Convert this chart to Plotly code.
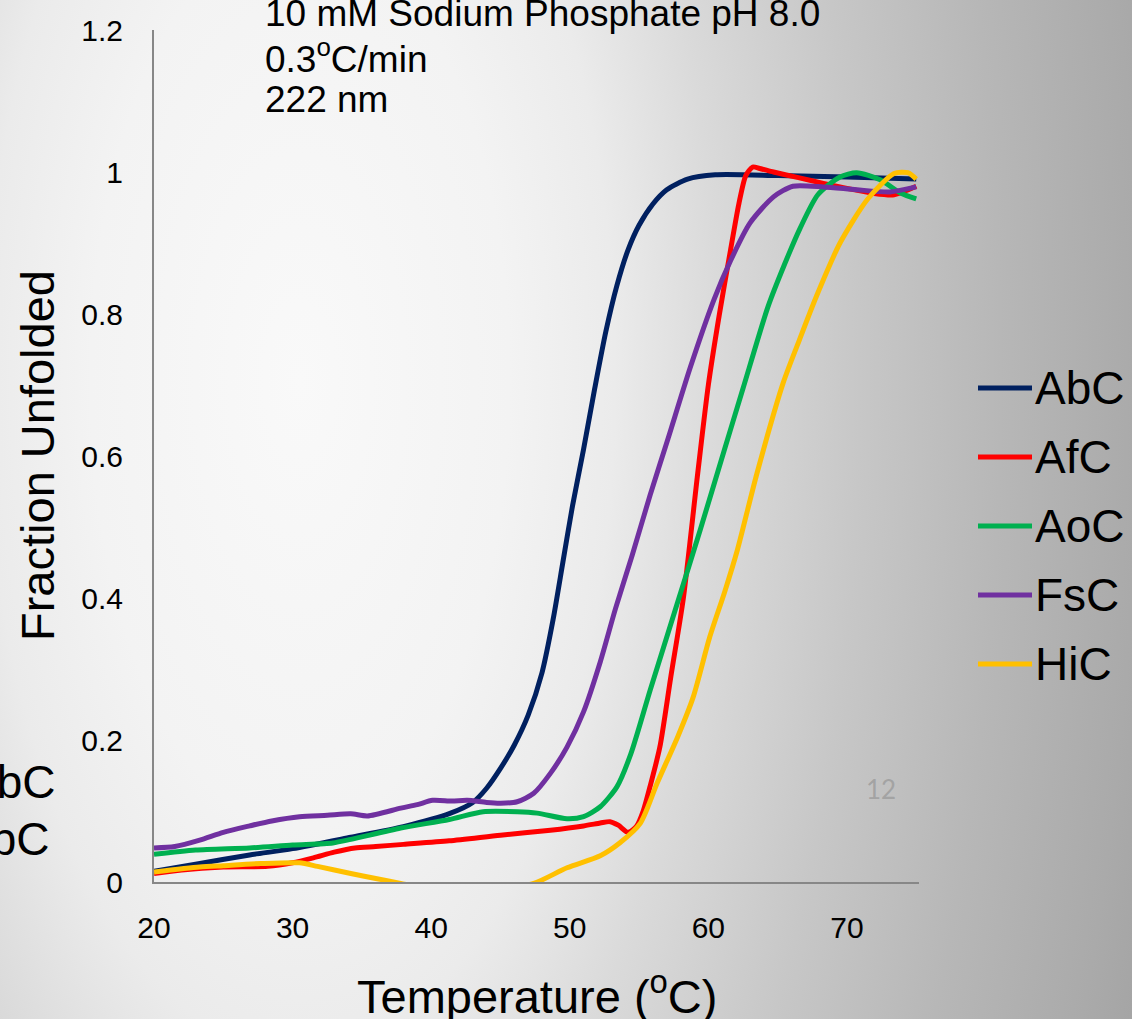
import base64
import plotly.graph_objects as go

# ---------------- data ----------------
series_names = ["AbC", "AfC", "AoC", "FsC", "HiC"]
series_colors = ["#002060", "#ff0000", "#00b050", "#7030a0", "#ffc000"]

abc_t = [20, 23, 26.9, 30, 34.2, 38, 41.4, 43, 44, 45, 46, 47, 48, 48.8, 49.5, 50.2, 51, 51.8, 52.6, 53.4, 54.2, 55, 56, 57, 58.5, 60.5, 65, 70, 75]
abc_f = [0.015, 0.025, 0.038, 0.047, 0.063, 0.078, 0.097, 0.112, 0.132, 0.16, 0.193, 0.235, 0.295, 0.37, 0.45, 0.53, 0.61, 0.695, 0.775, 0.84, 0.89, 0.925, 0.955, 0.975, 0.99, 0.996, 0.995, 0.993, 0.99]

afc_t = [20, 22, 25, 28.2, 30, 31.5, 33, 34.5, 36, 38, 41.3, 45, 48.6, 51, 52.2, 52.9, 53.5, 54.2, 54.8, 55.3, 55.8, 56.5, 57.3, 58.2, 59.2, 60.0, 60.8, 61.6, 62.2, 62.7, 63.2, 63.7, 64.7, 66.5, 68.3, 70, 71.9, 73.4, 75]
afc_f = [0.012, 0.017, 0.021, 0.022, 0.027, 0.034, 0.042, 0.048, 0.05, 0.053, 0.058, 0.066, 0.073, 0.079, 0.083, 0.085, 0.08, 0.07, 0.078, 0.1, 0.135, 0.19, 0.29, 0.4, 0.57, 0.7, 0.8, 0.89, 0.955, 0.995, 1.007, 1.005, 1.0, 0.992, 0.984, 0.977, 0.97, 0.968, 0.98]

aoc_t = [20, 23, 26.9, 30, 32.9, 34.2, 37.8, 41.3, 43.75, 46.2, 47.65, 49.8, 51, 52.2, 53.4, 54.4, 55.8, 57.8, 59.4, 61.1, 62.5, 64.3, 65.5, 66.6, 67.9, 69.5, 70.7, 72.4, 73.9, 75]
aoc_f = [0.039, 0.045, 0.048, 0.052, 0.055, 0.06, 0.076, 0.088, 0.099, 0.099, 0.097, 0.089, 0.092, 0.106, 0.134, 0.18, 0.27, 0.395, 0.495, 0.605, 0.695, 0.81, 0.87, 0.92, 0.968, 0.993, 0.999, 0.989, 0.97, 0.962]

fsc_t = [20, 21.5, 23.3, 25, 26.9, 28.5, 30.5, 32.5, 34.2, 35.4, 37.8, 39, 40.1, 41.5, 42.6, 44, 45, 46.2, 47.4, 48.6, 49.8, 51, 52.2, 53.3, 54.5, 55.8, 57.1, 58.7, 60.4, 61.6, 63, 64.7, 66.1, 68.3, 70.7, 73.1, 75]
fsc_f = [0.048, 0.05, 0.059, 0.07, 0.079, 0.086, 0.092, 0.094, 0.096, 0.093, 0.104, 0.109, 0.115, 0.114, 0.115, 0.112, 0.111, 0.113, 0.125, 0.153, 0.19, 0.24, 0.31, 0.385, 0.46, 0.545, 0.625, 0.725, 0.82, 0.875, 0.928, 0.965, 0.98, 0.979, 0.975, 0.972, 0.979]

hic_t = [20, 23.3, 25, 27.7, 30.5, 31.8, 34.2, 36, 37.8, 40, 42.5, 45, 47.4, 49.8, 52.2, 53.6, 55.1, 56.3, 57.8, 58.9, 60.1, 61.2, 62.1, 63.5, 65.4, 66.6, 67.8, 69.5, 71.5, 73.4, 74.4, 75]
hic_f = [0.014, 0.021, 0.023, 0.026, 0.027, 0.022, 0.012, 0.005, -0.002, -0.01, -0.015, -0.01, -0.002, 0.02, 0.037, 0.055, 0.083, 0.139, 0.205, 0.26, 0.345, 0.41, 0.468, 0.575, 0.703, 0.765, 0.825, 0.9, 0.962, 0.998, 0.999, 0.99]

x_ticks = [20, 30, 40, 50, 60, 70]
y_ticks = [0, 0.2, 0.4, 0.6, 0.8, 1, 1.2]
y_tick_labels = ["0", "0.2", "0.4", "0.6", "0.8", "1", "1.2"]

SUP_O = "<sup>o</sup>"
title_lines = ["10 mM Sodium Phosphate pH 8.0", "0.3" + SUP_O + "C/min", "222 nm"]
x_title = "Temperature (" + SUP_O + "C)"
y_title = "Fraction Unfolded"

all_t = [abc_t, afc_t, aoc_t, fsc_t, hic_t]
all_f = [abc_f, afc_f, aoc_f, fsc_f, hic_f]

# ---------------- layout geometry ----------------
W, H = 1132, 1019
L, R, T, B = 154, 213, 30, 137
PW, PH = W - L - R, H - T - B


def xp(px):
    return (px - L) / PW


def yp(py):
    return (H - B - py) / PH


FONT = "Liberation Sans, Arial, sans-serif"

# background radial gradient (slide background)
svg = f'''<svg xmlns="http://www.w3.org/2000/svg" width="{W}" height="{H}" viewBox="0 0 {W} {H}" preserveAspectRatio="none">
<defs><radialGradient id="g" gradientUnits="userSpaceOnUse" cx="0" cy="0" r="1" gradientTransform="translate(300 380) scale(910 1950)">
<stop offset="0" stop-color="#f9f9f9"/>
<stop offset="0.23" stop-color="#f3f3f3"/>
<stop offset="0.346" stop-color="#ebebeb"/>
<stop offset="0.46" stop-color="#dadada"/>
<stop offset="0.615" stop-color="#c7c7c7"/>
<stop offset="0.77" stop-color="#b7b7b7"/>
<stop offset="0.92" stop-color="#aaaaaa"/>
<stop offset="1" stop-color="#a2a2a2"/>
</radialGradient></defs>
<rect x="0" y="0" width="{W}" height="{H}" fill="url(#g)"/></svg>'''
bg_src = "data:image/svg+xml;base64," + base64.b64encode(svg.encode()).decode()

fig = go.Figure()
for name, color, t, f in zip(series_names, series_colors, all_t, all_f):
    fig.add_trace(go.Scatter(
        x=t, y=f, mode="lines", name=name,
        line=dict(color=color, width=5, shape="spline", smoothing=0.7),
        showlegend=False,
    ))

annotations = []
# header text lines
for txt, cy in zip(title_lines, [14, 57, 100]):
    annotations.append(dict(
        text=txt, xref="paper", yref="paper", x=xp(263), y=yp(cy),
        xanchor="left", yanchor="middle", showarrow=False,
        font=dict(family=FONT, size=37, color="#000000"),
    ))
# axis titles
annotations.append(dict(
    text=x_title, xref="paper", yref="paper", x=0.5, y=yp(993),
    xanchor="center", yanchor="middle", showarrow=False,
    font=dict(family=FONT, size=47, color="#000000"),
))
annotations.append(dict(
    text=y_title, xref="paper", yref="paper", x=xp(37), y=0.5,
    xanchor="center", yanchor="middle", showarrow=False, textangle=-90,
    font=dict(family=FONT, size=47, color="#000000"),
))
# slide number
annotations.append(dict(
    text="12", xref="paper", yref="paper", x=xp(881), y=yp(789),
    xanchor="center", yanchor="middle", showarrow=False,
    font=dict(family="Lato, Open Sans, sans-serif", size=26, color="#a3a3a3"),
))
# cropped text fragments at the left edge
for right_px, cy in [(57, 782), (51, 839)]:
    annotations.append(dict(
        text="AbC", xref="paper", yref="paper", x=xp(right_px), y=yp(cy),
        xanchor="right", yanchor="middle", showarrow=False,
        font=dict(family=FONT, size=46, color="#000000"),
    ))

# manual legend
shapes = []
legend_y = [388, 457, 526, 595, 664]
for name, color, ly in zip(series_names, series_colors, legend_y):
    shapes.append(dict(
        type="line", xref="paper", yref="paper",
        x0=xp(978), x1=xp(1032), y0=yp(ly), y1=yp(ly),
        line=dict(color=color, width=5),
    ))
    annotations.append(dict(
        text=name, xref="paper", yref="paper", x=xp(1033), y=yp(ly),
        xanchor="left", yanchor="middle", showarrow=False,
        font=dict(family=FONT, size=46, color="#000000"),
    ))

fig.update_layout(
    width=W, height=H,
    margin=dict(l=L, r=R, t=T, b=B, autoexpand=False),
    paper_bgcolor="rgba(0,0,0,0)",
    plot_bgcolor="rgba(0,0,0,0)",
    showlegend=False,
    images=[dict(
        source=bg_src, xref="paper", yref="paper",
        x=xp(0), y=yp(0), sizex=W / PW, sizey=H / PH,
        xanchor="left", yanchor="top", sizing="stretch", layer="below",
    )],
    annotations=annotations,
    shapes=shapes,
    xaxis=dict(
        range=[20, 75.2], tickvals=x_ticks, ticktext=[str(v) for v in x_ticks],
        showgrid=False, zeroline=False, showline=True, linecolor="#878787", linewidth=2,
        ticks="", ticklabelstandoff=18,
        tickfont=dict(family=FONT, size=30, color="#000000"),
    ),
    yaxis=dict(
        range=[0, 1.2], tickvals=y_ticks, ticktext=y_tick_labels,
        showgrid=False, zeroline=False, showline=True, linecolor="#878787", linewidth=2,
        ticks="", ticklabelstandoff=23,
        tickfont=dict(family=FONT, size=30, color="#000000"),
    ),
)

fig.write_html(
    "out.html",
    config={"displayModeBar": False},
    post_script="document.body.style.margin='0';document.body.style.padding='0';"
                "document.documentElement.style.overflow='hidden';",
)
